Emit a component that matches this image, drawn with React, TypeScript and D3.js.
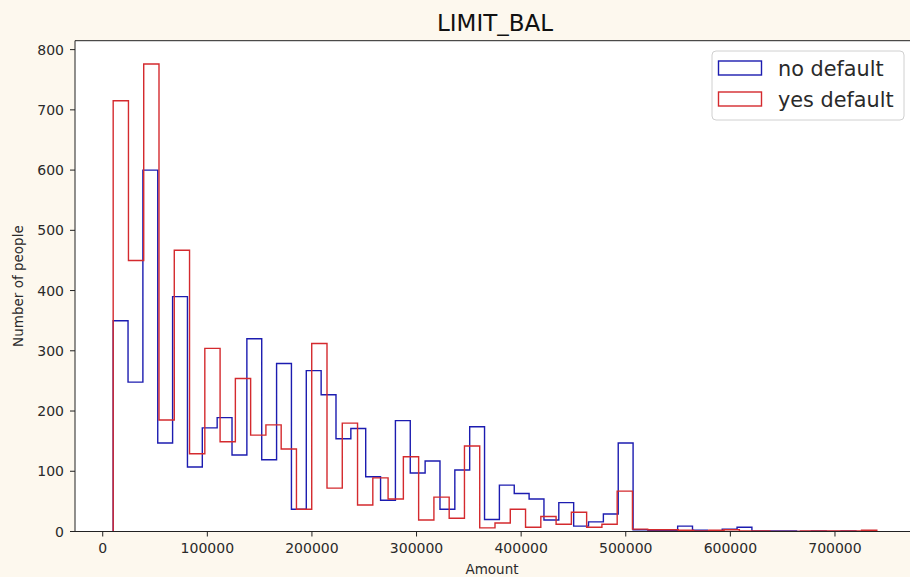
import React, { useMemo } from "react";
import { scaleLinear, line, range } from "d3";

// histogram counts, 50 bins each
const NO_DEFAULT = [
  350, 248, 600, 147, 390, 107, 172, 189, 127, 320,
  119, 279, 37, 267, 227, 154, 171, 91, 52, 184,
  97, 117, 37, 102, 174, 20, 77, 63, 54, 19,
  48, 9, 16, 29, 147, 3, 2, 2, 9, 2,
  1, 4, 7, 1, 1, 1, 0, 1, 0, 1,
];
const YES_DEFAULT = [
  715, 450, 776, 185, 467, 129, 304, 149, 254, 160,
  177, 137, 37, 312, 72, 180, 44, 89, 54, 124,
  19, 57, 22, 142, 6, 14, 37, 7, 25, 12,
  32, 7, 12, 67, 4, 3, 3, 2, 1, 2,
  3, 1, 1, 0, 0, 1, 1, 1, 1, 2,
];
// each series was binned over its own min..max
const NO_DEFAULT_RANGE = [10000, 720000];
const YES_DEFAULT_RANGE = [10000, 740000];

const X_TICKS = [0, 100000, 200000, 300000, 400000, 500000, 600000, 700000];
const Y_TICKS = [0, 100, 200, 300, 400, 500, 600, 700, 800];

const SERIES = [
  { name: "no default", counts: NO_DEFAULT, span: NO_DEFAULT_RANGE, color: "#1c1cb0" },
  { name: "yes default", counts: YES_DEFAULT, span: YES_DEFAULT_RANGE, color: "#d42a2e" },
];

const W = 910;
const H = 577;
const AX = { left: 75, right: 915, top: 40.7, bottom: 531.5 };
const FONT = "DejaVu Sans, sans-serif";
const INK = "#2a2a2a";

export default function App() {
  const { x, y, paths } = useMemo(() => {
    const lo = Math.min(...SERIES.map((s) => s.span[0]));
    const hi = Math.max(...SERIES.map((s) => s.span[1]));
    const pad = (hi - lo) * 0.05;
    const x = scaleLinear().domain([lo - pad, hi + pad]).range([AX.left, AX.right]);
    const maxCount = Math.max(...SERIES.flatMap((s) => s.counts));
    const y = scaleLinear().domain([0, maxCount * 1.05]).range([AX.bottom, AX.top]);

    const gen = line<[number, number]>()
      .x((d) => x(d[0]))
      .y((d) => y(d[1]));

    const paths = SERIES.map((s) => {
      const n = s.counts.length;
      const w = (s.span[1] - s.span[0]) / n;
      const edges = range(n + 1).map((i) => s.span[0] + i * w);
      const pts: [number, number][] = [[edges[0], 0]];
      s.counts.forEach((c, i) => {
        pts.push([edges[i], c]);
        pts.push([edges[i + 1], c]);
      });
      pts.push([edges[n], 0]);
      return { ...s, d: gen(pts) || "" };
    });
    return { x, y, paths };
  }, []);

  return (
    <svg
      width={W}
      height={H}
      style={{ position: "absolute", left: 0, top: 0, display: "block" }}
    >
      <defs>
        <clipPath id="plot-area">
          <rect x={AX.left} y={AX.top} width={AX.right - AX.left} height={AX.bottom - AX.top} />
        </clipPath>
      </defs>
      <rect x={0} y={0} width={W} height={H} fill="#fdf8ee" />
      <rect x={AX.left} y={AX.top} width={AX.right - AX.left} height={AX.bottom - AX.top} fill="#ffffff" />

      {/* histogram outlines */}
      <g clipPath="url(#plot-area)">
        {paths.map((p) => (
          <path key={p.name} d={p.d} fill="none" stroke={p.color} strokeWidth={1.4} strokeLinejoin="miter" />
        ))}
      </g>

      {/* spines */}
      <g stroke="#222" strokeWidth={1}>
        <line x1={AX.left} x2={AX.left} y1={AX.top} y2={AX.bottom} />
        <line x1={AX.left} x2={AX.right} y1={AX.bottom} y2={AX.bottom} />
        <line x1={AX.left} x2={AX.right} y1={AX.top} y2={AX.top} />
        <line x1={AX.right} x2={AX.right} y1={AX.top} y2={AX.bottom} />
      </g>

      {/* x axis */}
      {X_TICKS.map((t) => (
        <g key={t}>
          <line x1={x(t)} x2={x(t)} y1={AX.bottom} y2={AX.bottom + 5} stroke="#222" />
          <text
            x={x(t)}
            y={AX.bottom + 21}
            textAnchor="middle"
            fontFamily={FONT}
            fontSize={14}
            fill={INK}
          >
            {t}
          </text>
        </g>
      ))}
      <text x={(AX.left + AX.right) / 2 - 3} y={574} textAnchor="middle" fontFamily={FONT} fontSize={13.5} fill={INK}>
        Amount
      </text>

      {/* y axis */}
      {Y_TICKS.map((t) => (
        <g key={t}>
          <line x1={AX.left - 5} x2={AX.left} y1={y(t)} y2={y(t)} stroke="#222" />
          <text
            x={AX.left - 11}
            y={y(t) + 5}
            textAnchor="end"
            fontFamily={FONT}
            fontSize={14}
            fill={INK}
          >
            {t}
          </text>
        </g>
      ))}
      <text
        transform={`translate(23, ${(AX.top + AX.bottom) / 2}) rotate(-90)`}
        textAnchor="middle"
        fontFamily={FONT}
        fontSize={13.5}
        fill={INK}
      >
        Number of people
      </text>

      {/* title */}
      <text x={495} y={31} textAnchor="middle" fontFamily={FONT} fontSize={23} fill="#111">
        LIMIT_BAL
      </text>

      {/* legend */}
      <g>
        <rect x={712} y={51} width={192} height={69} rx={4} fill="#ffffff" fillOpacity={0.8} stroke="#d0d0d0" />
        {SERIES.map((s, i) => (
          <g key={s.name} transform={`translate(0, ${i * 31})`}>
            <rect x={718.5} y={61} width={43} height={14} fill="none" stroke={s.color} strokeWidth={1.4} />
            <text x={778} y={75.5} fontFamily={FONT} fontSize={20.8} fill={INK}>
              {s.name}
            </text>
          </g>
        ))}
      </g>
    </svg>
  );
}
